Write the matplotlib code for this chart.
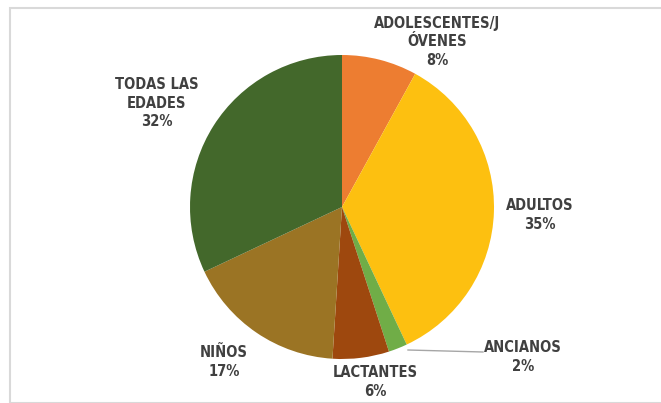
import matplotlib
matplotlib.use("Agg")
import matplotlib.pyplot as plt
from matplotlib.patches import Rectangle

# data
categories = ["ADOLESCENTES/J\nÓVENES", "ADULTOS", "ANCIANOS", "LACTANTES", "NIÑOS", "TODAS LAS\nEDADES"]
shares = [8, 35, 2, 6, 17, 32]
colors = ["#ED7D31", "#FDC010", "#70AD47", "#9E480E", "#9B7424", "#43682B"]

# label centres in pixel coords (x, y from top)
label_pos = [(437, 42), (540, 215), (523, 357), (375, 382), (224, 362), (157, 103)]

W, H = 661, 403
fig = plt.figure(figsize=(W / 100, H / 100), dpi=100)
ax = fig.add_axes([0, 0, 1, 1])

# light frame like the source screenshot
fig.patches.append(Rectangle((10 / W, 0), 1, (H - 8) / H, transform=fig.transFigure,
                             fill=False, edgecolor="#d9d9d9", linewidth=1.5))

cx, cy, r = 342, H - 207, 152
ax.pie(shares, colors=colors, startangle=90, counterclock=False,
       center=(cx, cy), radius=r, frame=True,
       wedgeprops=dict(linewidth=0))
ax.set_xlim(0, W)
ax.set_ylim(0, H)
ax.set_aspect("equal")
ax.axis("off")

for cat, val, (px, py) in zip(categories, shares, label_pos):
    ax.text(px, H - py, f"{cat}\n{val}%", ha="center", va="center",
            fontsize=10.5, fontweight="bold", fontstretch="condensed",
            color="#404040", family="DejaVu Sans", linespacing=1.3)

# leader line for the small slice
ax.plot([408, 483], [H - 350, H - 352], color="#a6a6a6", linewidth=1)

fig.savefig("out.png", dpi=100)
